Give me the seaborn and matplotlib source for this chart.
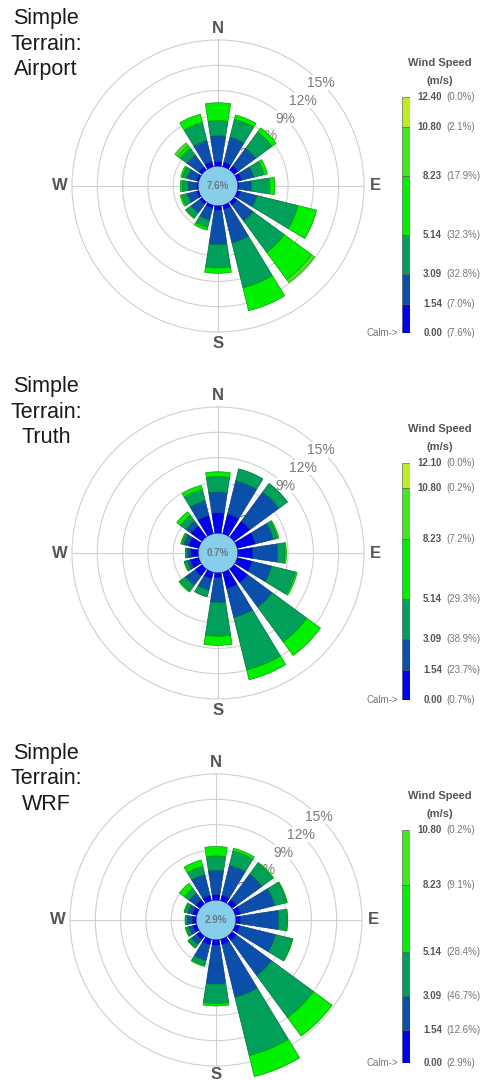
import numpy as np
import matplotlib
matplotlib.use('Agg')
import matplotlib.pyplot as plt
import seaborn as sns

sns.set_style('white')
plt.rcParams['font.family'] = ['Liberation Sans', 'DejaVu Sans']

# 16 compass sectors, clockwise from north
directions = ['N', 'NNE', 'NE', 'ENE', 'E', 'ESE', 'SE', 'SSE',
              'S', 'SSW', 'SW', 'WSW', 'W', 'WNW', 'NW', 'NNW']

# legend: class bounds (m/s) and the % printed next to each bound
airport_bounds = [0.00, 1.54, 3.09, 5.14, 8.23, 10.80, 12.40]
airport_legend_pct = [7.6, 7.0, 32.8, 32.3, 17.9, 2.1, 0.0]
truth_bounds = [0.00, 1.54, 3.09, 5.14, 8.23, 10.80, 12.10]
truth_legend_pct = [0.7, 23.7, 38.9, 29.3, 7.2, 0.2, 0.0]
wrf_bounds = [0.00, 1.54, 3.09, 5.14, 8.23, 10.80]
wrf_legend_pct = [2.9, 12.6, 46.7, 28.4, 9.1, 0.2]

# frequency (%) per direction for each speed class
airport_c1 = [0.60, 0.60, 0.65, 0.55, 0.20, 0.40, 0.50, 0.55, 0.55, 0.40, 0.35, 0.30, 0.25, 0.30, 0.50, 0.65]
airport_c2 = [3.04, 3.04, 2.59, 1.49, 1.44, 2.04, 2.34, 4.09, 4.09, 1.44, 1.29, 1.14, 0.99, 1.14, 1.74, 2.59]
airport_c3 = [1.80, 2.20, 2.40, 1.28, 2.20, 5.00, 4.60, 5.48, 2.76, 0.92, 0.72, 0.68, 0.72, 0.60, 1.00, 2.20]
airport_c4 = [2.12, 0.52, 0.60, 0.40, 0.60, 2.28, 4.00, 2.80, 0.64, 0.32, 0.12, 0.20, 0.20, 0.20, 0.40, 1.00]
airport_c5 = [0, 0, 0, 0, 0, 0, 0.48, 0, 0, 0, 0, 0, 0, 0, 0.40, 0]

truth_c1 = [2.44, 2.44, 2.36, 2.24, 1.80, 1.84, 2.04, 2.04, 0.64, 0.84, 1.04, 1.04, 0.92, 1.24, 1.64, 2.24]
truth_c2 = [2.48, 4.08, 4.28, 2.20, 2.96, 2.40, 3.60, 3.52, 2.92, 1.40, 1.40, 0.40, 0.40, 0.60, 0.72, 1.80]
truth_c3 = [1.84, 1.44, 1.28, 0.52, 0.88, 2.92, 5.12, 6.40, 4.00, 0.80, 0.88, 0.32, 0.20, 0.28, 0.88, 1.40]
truth_c4 = [0.56, 0, 0, 0.16, 0.16, 0.20, 2.00, 1.20, 1.08, 0, 0.12, 0.08, 0.04, 0.12, 0.52, 0.48]

wrf_c1 = [0.70, 0.70, 0.70, 0.70, 0.60, 0.60, 0.70, 0.70, 0.70, 0.70, 0.55, 0.50, 0.50, 0.55, 0.65, 0.70]
wrf_c2 = [2.90, 3.66, 3.74, 4.14, 4.52, 4.36, 5.14, 6.42, 4.58, 1.94, 0.77, 0.54, 0.58, 0.57, 0.99, 2.54]
wrf_c3 = [1.68, 1.76, 1.60, 1.48, 1.00, 2.04, 6.20, 7.12, 2.32, 0.60, 0.44, 0.32, 0.24, 0.40, 0.72, 1.00]
wrf_c4 = [1.12, 0.32, 0.12, 0.08, 0.08, 0.08, 2.72, 2.56, 0.28, 0.12, 0.08, 0.08, 0.04, 0.08, 0.72, 0.76]

class_colors = ['#0000F0', '#0A50AA', '#00A05A', '#00F000', '#44E622', '#BBEE22']
edge_colors = ['#0000A0', '#083C80', '#00703C', '#00A000', '#30A010', '#80A010']

W, H = 484, 1080
R_PX = 146        # pixel radius of the 15% ring
CALM_PX = 19.5    # pixel radius of the calm disc
rorigin = -15 * CALM_PX / (R_PX - CALM_PX)

panels = [
    dict(cx=218, cy=186, title='Simple\nTerrain:\nAirport', ty=44, calm='7.6%', s_r=16.4,
         classes=[airport_c1, airport_c2, airport_c3, airport_c4, airport_c5],
         bounds=airport_bounds, pct=airport_legend_pct, cb=(97, 333)),
    dict(cx=218, cy=553, title='Simple\nTerrain:\nTruth', ty=412, calm='0.7%', s_r=16.4,
         classes=[truth_c1, truth_c2, truth_c3, truth_c4],
         bounds=truth_bounds, pct=truth_legend_pct, cb=(463, 700)),
    dict(cx=216, cy=920, title='Simple\nTerrain:\nWRF', ty=779, calm='2.9%', s_r=16.0,
         classes=[wrf_c1, wrf_c2, wrf_c3, wrf_c4],
         bounds=wrf_bounds, pct=wrf_legend_pct, cb=(830, 1063)),
]

fig = plt.figure(figsize=(W / 100, H / 100), dpi=100)

for p in panels:
    # wind rose ************************************************************
    ax = fig.add_axes([(p['cx'] - R_PX) / W, 1 - (p['cy'] + R_PX) / H,
                       2 * R_PX / W, 2 * R_PX / H], projection='polar')
    ax.set_theta_zero_location('N')
    ax.set_theta_direction(-1)
    ax.set_ylim(0, 15)
    ax.set_rorigin(rorigin)
    ax.set_yticks([3, 6, 9, 12])
    ax.set_yticklabels([])
    ax.set_xticks(np.deg2rad([0, 90, 180, 270]))
    ax.set_xticklabels([])
    ax.grid(True, color='#cfcfcf', linewidth=0.8)
    ax.spines['polar'].set_color('#cfcfcf')
    ax.spines['polar'].set_linewidth(0.8)
    ax.spines['inner'].set_visible(False)

    theta = np.deg2rad(np.arange(len(directions)) * 22.5)
    bottom = np.zeros(len(directions))
    for vals, col, edge in zip(p['classes'], class_colors, edge_colors):
        vals = np.asarray(vals, dtype=float)
        keep = vals > 0
        ax.bar(theta[keep], vals[keep], width=np.deg2rad(17.5), bottom=bottom[keep],
               color=col, edgecolor=edge, linewidth=0.5, zorder=3, clip_on=False)
        bottom += vals

    # ring labels along the NE diagonal
    for v in [3, 6, 9, 12, 15]:
        ax.text(np.deg2rad(45), v, f'{v}%', ha='center', va='center', fontsize=10,
                color='#7a7a7a', zorder=2.6,
                bbox=dict(facecolor='white', edgecolor='none', pad=0.3))

    for lab, ang in zip(['N', 'E', 'S', 'W'], [0, 90, 180, 270]):
        r_lab = p['s_r'] if lab == 'S' else 16.4
        ax.text(np.deg2rad(ang), r_lab, lab, ha='center', va='center', fontsize=12,
                fontweight='bold', color='#555555', clip_on=False)

    ax.add_patch(plt.Circle((0.5, 0.5), CALM_PX / (2 * R_PX), transform=ax.transAxes,
                            facecolor='#87CEEB', edgecolor='none', zorder=5, clip_on=False))
    ax.text(0.5, 0.5, p['calm'], transform=ax.transAxes, ha='center', va='center',
            fontsize=7, fontweight='bold', color='#66788a', zorder=6)

    fig.text(46 / W, 1 - p['ty'] / H, p['title'], ha='center', va='center',
             multialignment='center', fontsize=15.5, color='#1a1a1a', linespacing=1.28)

    # speed legend *********************************************************
    top_px, bot_px = p['cb']
    bounds = p['bounds']
    cax = fig.add_axes([402 / W, 1 - bot_px / H, 8 / W, (bot_px - top_px) / H])
    cax.bar(0, np.diff(bounds), bottom=bounds[:-1], width=1,
            color=class_colors[:len(bounds) - 1], edgecolor='#4a4a4a', linewidth=0.4)
    cax.set_xlim(-0.5, 0.5)
    cax.set_ylim(bounds[0], bounds[-1])
    cax.axis('off')
    tr = cax.get_yaxis_transform()
    for b, pc in zip(bounds, p['pct']):
        cax.text(5.0, b, f'{b:.2f}', transform=tr, ha='right', va='center', fontsize=7,
                 fontweight='bold', color='#555555')
        cax.text(5.5, b, f'({pc:.1f}%)', transform=tr, ha='left', va='center', fontsize=7,
                 color='#777777')
    cax.text(-0.5, 0, 'Calm->', transform=tr, ha='right', va='center', fontsize=7,
             color='#777777')
    fig.text(440 / W, 1 - (top_px - 34) / H, 'Wind Speed', ha='center', va='center',
             fontsize=8, fontweight='bold', color='#555555')
    fig.text(440 / W, 1 - (top_px - 16) / H, '(m/s)', ha='center', va='center',
             fontsize=8, fontweight='bold', color='#555555')

fig.savefig('out.png', dpi=100)
